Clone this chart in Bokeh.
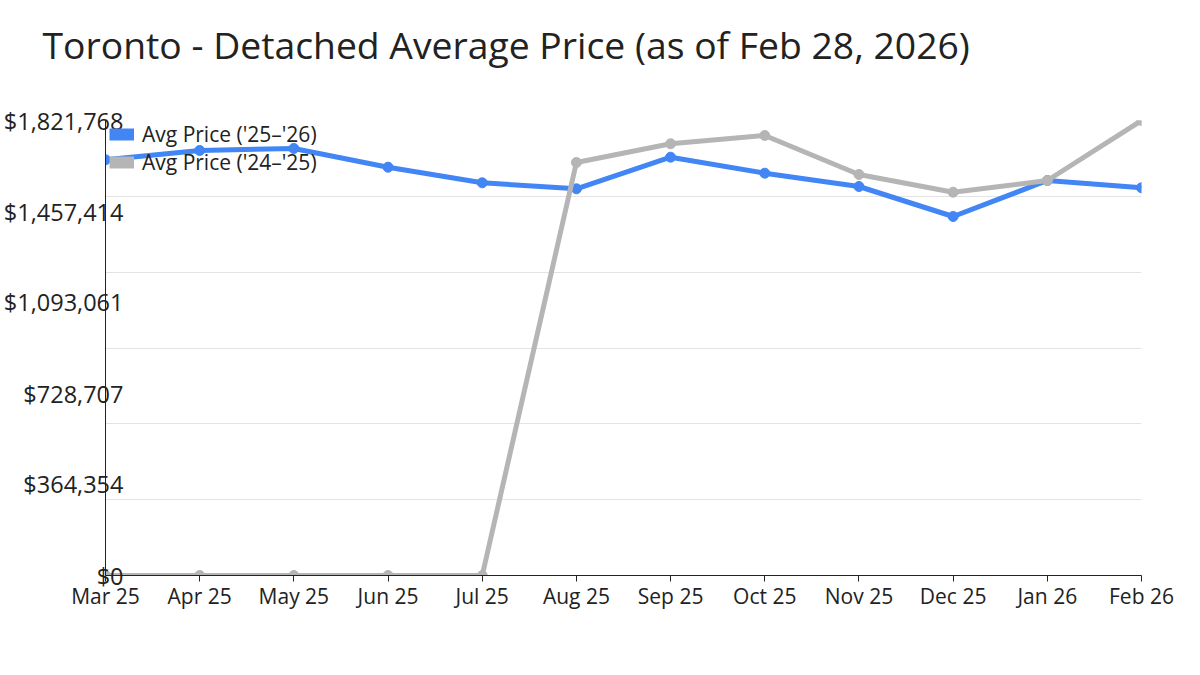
from bokeh.plotting import figure
from bokeh.models import Range1d, FixedTicker, Legend, LegendItem, Title
from bokeh.embed import file_html
from bokeh.resources import INLINE

months = ["Mar 25", "Apr 25", "May 25", "Jun 25", "Jul 25", "Aug 25",
          "Sep 25", "Oct 25", "Nov 25", "Dec 25", "Jan 26", "Feb 26"]
price_25_26 = [1664400, 1701700, 1709700, 1634800, 1572300, 1548300,
               1674800, 1610800, 1557500, 1437400, 1581500, 1552300]
price_24_25 = [0, 0, 0, 0, 0, 1653600, 1728500, 1761700, 1605600,
               1534700, 1581500, 1821768]
y_max = 1821768
y_ticks = [0, 364354, 728707, 1093061, 1457414, 1821768]
y_tick_labels = ["$0", "$364,354", "$728,707", "$1,093,061", "$1,457,414", "$1,821,768"]
series_names = ["Avg Price ('25\u2013'26)", "Avg Price ('24\u2013'25)"]
title_text = "Toronto - Detached Average Price (as of Feb 28, 2026)"

FONT = "Open Sans"
TXT = "#222222"
BLUE = "#4285F4"
GRAY = "#B5B5B5"

xs = list(range(len(months)))

p = figure(width=1200, height=670, output_backend="svg", toolbar_location=None,
           x_range=Range1d(0, len(months) - 1), y_range=Range1d(0, y_max),
           min_border_left=100, min_border_right=59, min_border_top=120,
           min_border_bottom=95)
p.outline_line_color = None
p.background_fill_color = "white"
p.border_fill_color = "white"

# a blank second line keeps the title high above the plot frame
t = Title(text=title_text + "\n ", text_font=FONT, text_font_size="37.3px",
          text_font_style="normal", text_color=TXT, align="left",
          vertical_align="bottom", offset=-63, standoff=0)
p.add_layout(t, "above")

# grids
p.xgrid.visible = False
p.ygrid.ticker = FixedTicker(ticks=[y_max * i / 6 for i in range(7)])
p.ygrid.grid_line_color = "#e3e3e3"
p.ygrid.grid_line_width = 1

# x axis
p.xaxis.ticker = FixedTicker(ticks=xs)
p.xaxis.major_label_overrides = {i: m for i, m in zip(xs, months)}
p.xaxis.minor_tick_line_color = None
p.xaxis.major_tick_in = 0
p.xaxis.major_tick_out = 6
p.xaxis.major_label_standoff = 0
p.xaxis.major_label_text_font = FONT
p.xaxis.major_label_text_font_size = "21px"
p.xaxis.major_label_text_color = TXT
p.xaxis.axis_line_color = "#222222"
p.xaxis.major_tick_line_color = "#222222"

# y axis
p.yaxis.ticker = FixedTicker(ticks=y_ticks)
p.yaxis.major_label_overrides = {v: s for v, s in zip(y_ticks, y_tick_labels)}
p.yaxis.minor_tick_line_color = None
p.yaxis.major_tick_line_color = None
p.yaxis.major_tick_in = 0
p.yaxis.major_tick_out = 0
p.yaxis.major_label_standoff = -18
p.yaxis.major_label_text_font = FONT
p.yaxis.major_label_text_font_size = "23.5px"
p.yaxis.major_label_text_color = TXT
p.yaxis.axis_line_color = "#222222"

# series
r1 = p.line(xs, price_25_26, line_color=BLUE, line_width=5)
p.scatter(xs, price_25_26, size=10, fill_color=BLUE, line_color=BLUE)
r2 = p.line(xs, price_24_25, line_color=GRAY, line_width=5)
p.scatter(xs, price_24_25, size=10, fill_color=GRAY, line_color=GRAY)

# legend swatches (rectangular blocks)
s1 = p.line([float("nan")], [float("nan")], line_color=BLUE, line_width=12, line_cap="butt")
s2 = p.line([float("nan")], [float("nan")], line_color=GRAY, line_width=12, line_cap="butt")

legend = Legend(items=[LegendItem(label=series_names[0], renderers=[s1]),
                       LegendItem(label=series_names[1], renderers=[s2])],
                location=(4, 399), orientation="vertical",
                padding=0, margin=0, spacing=0,
                glyph_width=25, glyph_height=20, label_height=20,
                label_standoff=8,
                label_text_font=FONT, label_text_font_size="21px",
                label_text_color=TXT,
                border_line_color=None, background_fill_alpha=0)
p.add_layout(legend, "center")

open("out.html", "w").write(file_html(p, INLINE))
